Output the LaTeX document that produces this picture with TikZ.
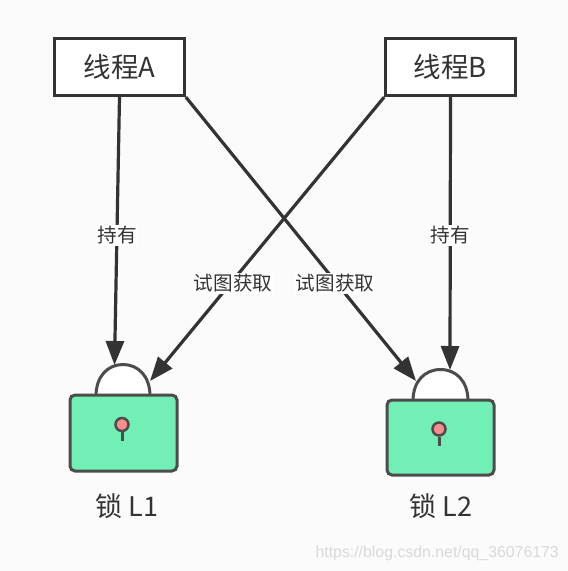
\documentclass[tikz,border=0pt]{standalone}
\usepackage{fontspec}
\setmainfont{Noto Sans CJK SC}
\newfontfamily\wmfont{Liberation Sans}
\usetikzlibrary{arrows.meta}
\definecolor{ink}{HTML}{333333}
\definecolor{bg}{HTML}{FBFBFB}
\definecolor{lockgreen}{HTML}{72EFB5}
\definecolor{keyred}{HTML}{F98C8C}
\tikzset{
  threadbox/.style={draw=ink,line width=3.2pt,fill=white,minimum width=129.5pt,minimum height=57pt,inner sep=0pt,text=ink,font=\fontsize{27.5}{30}\selectfont},
  conn/.style={draw=ink,line width=3.2pt,-{Triangle[length=24pt,width=18pt]}},
  connlabel/.style={fill=white,text=ink,inner sep=1pt,font=\fontsize{19.6}{22}\selectfont},
  lockbody/.style={draw=black!70!white,line width=3pt,fill=lockgreen,rounded corners=5pt},
  lockarch/.style={draw=black!70!white,line width=3pt,fill=white},
  keyhole/.style={draw=black!70!white,line width=2.5pt,fill=keyred,circle,minimum size=13pt,inner sep=0pt},
  keystem/.style={draw=black!70!white,line width=3pt},
  locklabel/.style={text=ink,inner sep=0pt,font=\fontsize{27}{30}\selectfont}
}
\begin{document}
\begin{tikzpicture}[x=1pt,y=-1pt]
\fill[bg] (0,0) rectangle (568,571);
\useasboundingbox (0,0) rectangle (568,571);
% locks
\draw[lockarch] (96,396) .. controls (96,376) and (108,364.5) .. (123,364.5) .. controls (138,364.5) and (150,376) .. (150,396) -- cycle;
\draw[lockbody] (70,395) rectangle (177,471);
\coordinate (k1end) at (122,441);
\node[keyhole] (k1) at (122,424.5) {};
\draw[keystem] (k1) -- (k1end);
\draw[lockarch] (413,401) .. controls (413,381) and (425,369.5) .. (440.5,369.5) .. controls (456,369.5) and (468,381) .. (468,401) -- cycle;
\draw[lockbody] (387,400) rectangle (494,475);
\coordinate (k2end) at (439,446);
\node[keyhole] (k2) at (439,429) {};
\draw[keystem] (k2) -- (k2end);
% thread boxes
\node[threadbox] (a) at (119.5,67) {\raisebox{-4pt}{线程A}};
\node[threadbox] (b) at (450.5,67) {\raisebox{-4pt}{线程B}};
% connector ends
\coordinate (l1top) at (114.5,365);
\coordinate (l1side) at (150,381);
\coordinate (l2side) at (416,381);
\coordinate (l2top) at (450,370);
\draw[conn] (a.south) -- (l1top);
\draw[conn] (b.south) -- (l2top);
\draw[conn] (a.south east) -- (l2side);
\draw[conn] (b.south west) -- (l1side);
\node[connlabel] (t1) at (117,235.5) {持有};
\node[connlabel] (t2) at (450.5,235.5) {持有};
\node[connlabel] (t3) at (335,283.5) {试图获取};
\node[connlabel] (t4) at (233,283.5) {试图获取};
\node[locklabel] (n1) at (127,506.5) {锁 L1};
\node[locklabel] (n2) at (441,506.5) {锁 L2};
\node[text=black!15!white,inner sep=0pt,anchor=east,font=\wmfont\fontsize{15.85}{18}\selectfont] (wm) at (559,553) {https://blog.csdn.net/qq\_36076173};
\end{tikzpicture}
\end{document}
